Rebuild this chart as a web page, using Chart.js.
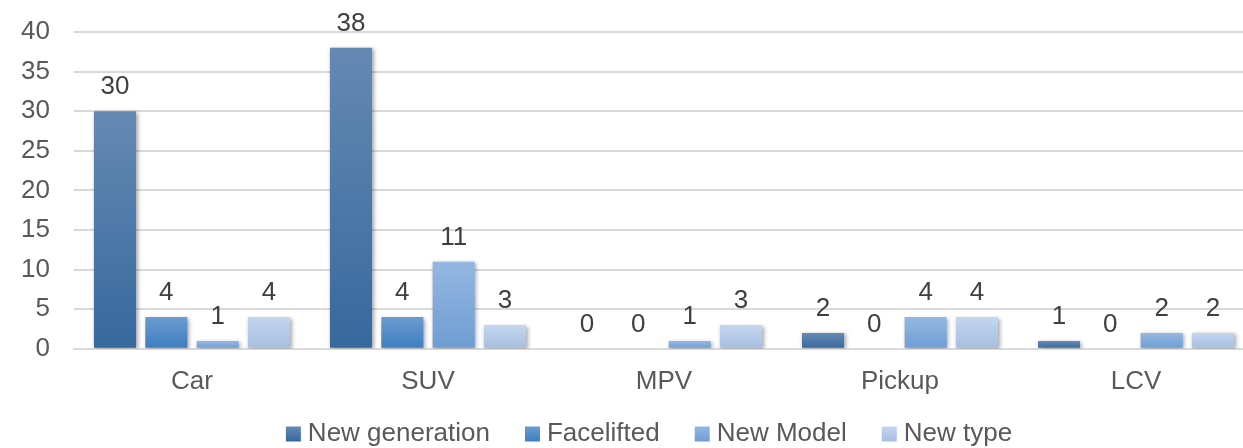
<!DOCTYPE html>
<html>
<head>
<meta charset="utf-8">
<script src="https://cdn.jsdelivr.net/npm/chart.js@4/dist/chart.umd.min.js"></script>
<style>
  html, body { margin: 0; padding: 0; background: #fff; overflow: hidden; }
  #wrap { width: 1254px; height: 448px; }
  canvas { display: block; }
</style>
</head>
<body>
<div id="wrap"><canvas id="chart" width="1254" height="448"></canvas></div>
<script>
const categories = ["Car", "SUV", "MPV", "Pickup", "LCV"];
const seriesNames = ["New generation", "Facelifted", "New Model", "New type"];
const newGeneration = [30, 38, 0, 2, 1];
const facelifted = [4, 4, 0, 0, 0];
const newModel = [1, 11, 1, 4, 2];
const newType = [4, 3, 3, 4, 2];
const yMin = 0;
const yMax = 40;
const yStep = 5;

// top / bottom colours of each series gradient
const shades = [
  ["#6589b3", "#36699d"],
  ["#6b9bd0", "#3e7ec0"],
  ["#95b7e2", "#6e9dd3"],
  ["#c4d6ee", "#a6bee1"],
];

const FONT = '"Liberation Sans", Arial, sans-serif';

const barFill = (i) => (ctx) => {
  const chart = ctx.chart;
  const [top, bottom] = shades[i];
  if (!chart.chartArea || ctx.type !== "data") return bottom;
  const y = chart.scales.y;
  const y0 = y.getPixelForValue(0);
  const y1 = y.getPixelForValue(ctx.raw);
  if (Math.abs(y0 - y1) < 1) return bottom;
  const g = chart.ctx.createLinearGradient(0, y1, 0, y0);
  g.addColorStop(0, top);
  g.addColorStop(1, bottom);
  return g;
};

const values = [newGeneration, facelifted, newModel, newType];

const shadowPlugin = {
  id: "shadow",
  beforeDatasetsDraw(chart) {
    const c = chart.ctx;
    c.save();
    c.shadowColor = "rgba(0,0,0,0.35)";
    c.shadowBlur = 4;
    c.shadowOffsetX = 1.5;
    c.shadowOffsetY = 1.5;
  },
  afterDatasetsDraw(chart) {
    chart.ctx.restore();
  },
};

const valueLabels = {
  id: "valueLabels",
  afterDatasetsDraw(chart) {
    const c = chart.ctx;
    c.save();
    c.font = "26px " + FONT;
    c.fillStyle = "#404040";
    c.textAlign = "center";
    c.textBaseline = "alphabetic";
    chart.data.datasets.forEach((ds, i) => {
      chart.getDatasetMeta(i).data.forEach((bar, j) => {
        c.fillText(String(ds.data[j]), bar.x, bar.y - 17);
      });
    });
    c.restore();
  },
};

// legend drawn by hand so the box / text gaps match
const bottomLegend = {
  id: "bottomLegend",
  afterDraw(chart) {
    const c = chart.ctx;
    c.save();
    c.font = "26px " + FONT;
    const box = 15, gap = 7, space = 35;
    const widths = seriesNames.map((n) => c.measureText(n).width);
    const total = widths.reduce((a, b) => a + b, 0) + seriesNames.length * (box + gap) + space * (seriesNames.length - 1);
    let x = 649 - total / 2;
    const cy = 434;
    seriesNames.forEach((n, i) => {
      const g = c.createLinearGradient(0, cy - box / 2, 0, cy + box / 2);
      g.addColorStop(0, shades[i][0]);
      g.addColorStop(1, shades[i][1]);
      c.fillStyle = g;
      c.fillRect(x, cy - box / 2, box, box);
      x += box + gap;
      c.fillStyle = "#595959";
      c.textAlign = "left";
      c.textBaseline = "middle";
      c.fillText(n, x, cy);
      x += widths[i] + space;
    });
    c.restore();
  },
};

new Chart(document.getElementById("chart"), {
  type: "bar",
  data: {
    labels: categories,
    datasets: seriesNames.map((name, i) => ({
      label: name,
      data: values[i],
      backgroundColor: barFill(i),
      borderWidth: 0,
      categoryPercentage: 0.87,
      barPercentage: 0.82,
    })),
  },
  options: {
    responsive: false,
    animation: false,
    devicePixelRatio: 1,
    layout: { padding: { top: 32, right: 0, bottom: 34, left: 0 } },
    plugins: {
      legend: { display: false },
      tooltip: { enabled: false },
    },
    scales: {
      x: {
        grid: { display: false, drawTicks: false },
        border: { display: true, color: "#d9d9d9", width: 2 },
        ticks: { color: "#595959", font: { family: FONT, size: 26 }, padding: 17 },
      },
      y: {
        min: yMin,
        max: yMax,
        afterFit(scale) {
          scale.width = 74;
          scale.paddingTop = 0;
          scale.paddingBottom = 0;
        },
        grid: { color: "#d9d9d9", lineWidth: 2, drawTicks: false },
        border: { display: false },
        ticks: { stepSize: yStep, color: "#595959", font: { family: FONT, size: 26 }, padding: 24 },
      },
    },
  },
  plugins: [shadowPlugin, valueLabels, bottomLegend],
});
</script>
</body>
</html>
